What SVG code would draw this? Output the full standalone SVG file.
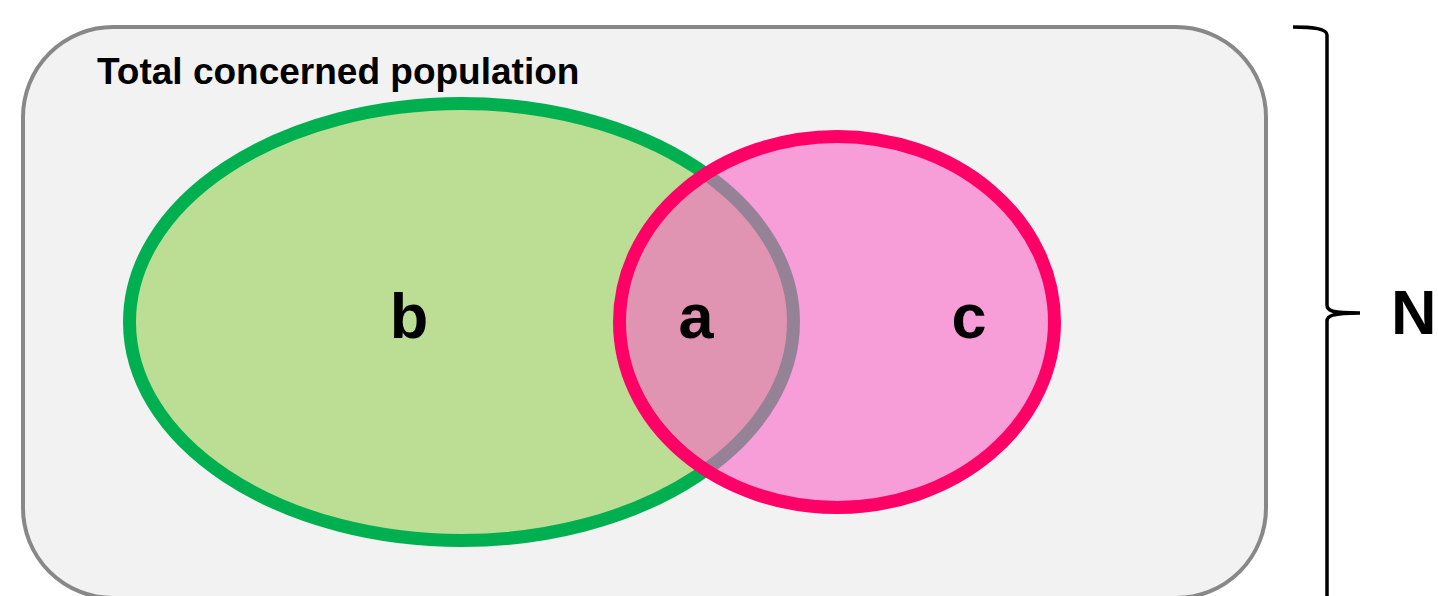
<svg xmlns="http://www.w3.org/2000/svg" width="1438" height="596" viewBox="0 0 1438 596">
<style>
.lbl{font-family:"Liberation Sans",Arial,sans-serif;font-weight:bold;fill:#000}
.big{font-size:63px;text-anchor:middle}
.title{font-size:37px}
</style>
<rect x="0" y="0" width="1438" height="596" fill="#ffffff"/>
<g id="population">
<rect x="23" y="27" width="1243" height="571" rx="90" ry="90" fill="#f2f2f2" stroke="#888888" stroke-width="4"/>
<text class="lbl title" x="97" y="84">Total concerned population</text>
</g>
<g id="set-b">
<ellipse cx="461.5" cy="322" rx="332" ry="218.5" fill="#bbdd94" stroke="#00b050" stroke-width="13"/>
<text class="lbl big" x="409" y="338">b</text>
</g>
<g id="set-c">
<ellipse cx="837" cy="322" rx="217.5" ry="185.5" fill="rgb(250,100,199)" fill-opacity="0.6" stroke="none"/>
<ellipse cx="837" cy="322" rx="217.5" ry="185.5" fill="none" stroke="#ff0066" stroke-width="13"/>
<text class="lbl big" x="969" y="338">c</text>
</g>
<g id="intersection-a">
<text class="lbl big" x="696" y="338">a</text>
</g>
<g id="connectors">
<path d="M1293,27 C1310,27 1327,28 1327,35 L1327,305 C1327,311 1332,313 1360,313 C1332,313 1327,316 1327,321 L1327,600" fill="none" stroke="#000" stroke-width="3.5"/>
</g>
<g id="total-N">
<text class="lbl" x="1391" y="334" font-size="63">N</text>
</g>
</svg>
